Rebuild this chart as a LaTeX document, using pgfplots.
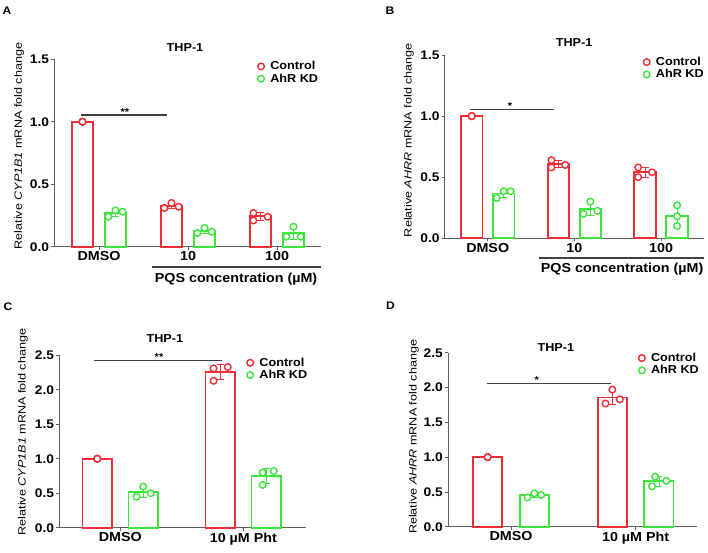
\documentclass[border=0pt]{standalone}
\usepackage{fontspec}
\setmainfont{Liberation Sans}[FakeStretch=1.1]
\newfontfamily\labfont[FakeStretch=1.2]{Liberation Sans}
\usepackage{pgfplots}
\usepackage{pgfplotstable}
\pgfplotsset{compat=1.18}

\definecolor{cred}{RGB}{238,45,55}
\definecolor{cgreen}{RGB}{60,228,60}
\definecolor{axgray}{RGB}{95,95,95}

% bar tables: mean and SD
\pgfplotstableread{
x ctrl ctrlsd kd kdsd
0 1.000 0.000 0.270 0.025
1 0.327 0.021 0.127 0.021
2 0.243 0.030 0.107 0.046
}\barsA
\pgfplotstableread{
x y
0 1.00
0 1.00
0 1.00
0.92 0.31
1.00 0.35
1.08 0.32
1.92 0.27
1.92 0.21
2.08 0.24
}\ctrlA
\pgfplotstableread{
x y
-0.08 0.24
0.00 0.29
0.08 0.28
0.92 0.11
1.00 0.15
1.08 0.12
1.92 0.08
2.00 0.16
2.08 0.08
}\kdA

\pgfplotstableread{
x ctrl ctrlsd kd kdsd
0 1.000 0.000 0.367 0.032
1 0.607 0.030 0.242 0.052
2 0.540 0.040 0.183 0.085
}\barsB
\pgfplotstableread{
x y
0 1.00
0 1.00
0 1.00
0.92 0.64
0.92 0.58
1.08 0.60
1.92 0.58
1.92 0.50
2.08 0.54
}\ctrlB
\pgfplotstableread{
x y
-0.08 0.33
0.00 0.385
0.08 0.385
0.92 0.20
1.00 0.30
1.08 0.225
2.00 0.27
2.00 0.18
2.00 0.10
}\kdB

\pgfplotstableread{
x ctrl ctrlsd kd kdsd
0 1.000 0.000 0.515 0.075
1 2.257 0.110 0.747 0.110
}\barsC
\pgfplotstableread{
x y
0 1.00
0 1.00
0 1.00
0.945 2.31
0.945 2.13
1.06 2.33
}\ctrlC
\pgfplotstableread{
x y
-0.055 0.45
0.00 0.595
0.06 0.50
0.97 0.80
0.97 0.62
1.06 0.82
}\kdC

\pgfplotstableread{
x ctrl ctrlsd kd kdsd
0 1.000 0.000 0.452 0.030
1 1.857 0.100 0.653 0.070
}\barsD
\pgfplotstableread{
x y
0 1.00
0 1.00
0 1.00
0.945 1.77
1.00 1.97
1.06 1.83
}\ctrlD
\pgfplotstableread{
x y
-0.055 0.42
0.00 0.48
0.055 0.455
0.945 0.58
0.97 0.72
1.06 0.66
}\kdD

\pgfplotsset{
  panel/.style={
    scale only axis, anchor=south west, clip=false,
    axis lines=left,
    axis line style={-, draw=axgray, line width=0.9pt},
    tick style={draw=axgray, line width=0.8pt},
    tick align=outside, major tick length=3pt,
    ymin=0,
    xticklabel style={font=\bfseries\fontsize{13}{13}\selectfont, inner sep=2pt},
    yticklabel style={font=\bfseries\fontsize{12.5}{12.5}\selectfont, inner sep=2pt,
      /pgf/number format/fixed, /pgf/number format/fixed zerofill,
      /pgf/number format/precision=1},
    /pgf/number format/assume math mode=true,
    ylabel style={anchor=center, font=\labfont\fontsize{10.5}{11}\selectfont},
    every axis title/.style={anchor=base, font=\bfseries\fontsize{11.5}{11.5}\selectfont},
    legend style={draw=none, fill=none, anchor=north west,
      font=\bfseries\fontsize{11.5}{11.5}\selectfont, row sep=-1.5pt,
      inner sep=0pt},
    legend cell align=left,
  },
  bars/.style={ybar, fill=white, line width=1.8pt, draw=#1, forget plot},
  errs/.style={forget plot, draw=none, mark=none,
    error bars/y dir=both, error bars/y explicit,
    error bars/error bar style={line width=0.8pt, draw=#1},
    error bars/error mark options={rotate=90, mark size=3.5pt, line width=0.8pt, draw=#1}},
  pts/.style={only marks, mark=*, mark size=3.3pt,
    mark options={fill=white, draw=#1, line width=1.4pt},
    legend image code/.code={\path (0pt,0pt) (11pt,0pt);
      \draw[mark repeat=2, mark phase=2, ##1]
      plot coordinates {(0pt,0pt) (4pt,0pt) (8pt,0pt)};}},
  sig/.style={line width=1.1pt, draw=black!75, forget plot},
}

\begin{document}
\begin{tikzpicture}
\useasboundingbox (0,0) rectangle (708pt,552pt);

% ---------------- A ----------------
\begin{axis}[panel, at={(54.3pt,305.3pt)}, width=266.7pt, height=187.4pt,
  xmin=-0.502, xmax=2.494, ymax=1.5, ytick={0,0.5,1,1.5},
  xtick={0,1,2}, xticklabels={DMSO,10,100},
  ylabel={Relative \textit{CYP1B1} mRNA fold change},
  ylabel style={at={(axis description cs:-0.132,0.537)}},
  title={THP-1}, title style={at={(axis description cs:0.49,1.044)}},
  legend style={at={(axis description cs:0.759,1.0)}}]
\addlegendimage{pts=cred}\addlegendentry{Control}
\addlegendimage{pts=cgreen}\addlegendentry{AhR KD}
\addplot[bars=cred, bar width=21pt, bar shift=-16.5pt] table[x=x, y=ctrl] {\barsA};
\addplot[bars=cgreen, bar width=21pt, bar shift=16.5pt] table[x=x, y=kd] {\barsA};
\addplot[errs=cred, xshift=-16.5pt] table[x=x, y=ctrl, y error=ctrlsd] {\barsA};
\addplot[errs=cgreen, xshift=16.5pt] table[x=x, y=kd, y error=kdsd] {\barsA};
\addplot[pts=cred, forget plot, xshift=-16.5pt] table[x=x, y=y] {\ctrlA};
\addplot[pts=cgreen, forget plot, xshift=16.5pt] table[x=x, y=y] {\kdA};
\addplot[sig] coordinates {(-0.202,1.054) (0.764,1.054)};
\node[anchor=base, font=\bfseries\fontsize{10}{10}\selectfont] at (axis cs:0.29,1.054) {**};
\addplot[sig] coordinates {(0.596,-0.1625) (2.494,-0.1625)};
\node[anchor=base, font=\bfseries\fontsize{13}{13}\selectfont] at (axis cs:1.54,-0.285) {PQS concentration (µM)};
\end{axis}

% ---------------- B ----------------
\begin{axis}[panel, at={(444.7pt,313.7pt)}, width=259.3pt, height=183.3pt,
  xmin=-0.496, xmax=2.495, ymax=1.5, ytick={0,0.5,1,1.5},
  xtick={0,1,2}, xticklabels={DMSO,10,100},
  ylabel={Relative \textit{AHRR} mRNA fold change},
  ylabel style={at={(axis description cs:-0.138,0.536)}},
  title={THP-1}, title style={at={(axis description cs:0.499,1.049)}},
  legend style={at={(axis description cs:0.762,1.0)}}]
\addlegendimage{pts=cred}\addlegendentry{Control}
\addlegendimage{pts=cgreen}\addlegendentry{AhR KD}
\addplot[bars=cred, bar width=21.5pt, bar shift=-16pt] table[x=x, y=ctrl] {\barsB};
\addplot[bars=cgreen, bar width=21.5pt, bar shift=16pt] table[x=x, y=kd] {\barsB};
\addplot[errs=cred, xshift=-16pt] table[x=x, y=ctrl, y error=ctrlsd] {\barsB};
\addplot[errs=cgreen, xshift=16pt] table[x=x, y=kd, y error=kdsd] {\barsB};
\addplot[pts=cred, forget plot, xshift=-16pt] table[x=x, y=y] {\ctrlB};
\addplot[pts=cgreen, forget plot, xshift=16pt] table[x=x, y=y] {\kdB};
\addplot[sig] coordinates {(-0.208,1.054) (0.765,1.054)};
\node[anchor=base, font=\bfseries\fontsize{10}{10}\selectfont] at (axis cs:0.257,1.054) {*};
\addplot[sig] coordinates {(0.59,-0.161) (2.495,-0.161)};
\node[anchor=base, font=\bfseries\fontsize{13}{13}\selectfont] at (axis cs:1.55,-0.276) {PQS concentration (µM)};
\end{axis}

% ---------------- C ----------------
\begin{axis}[panel, at={(59.3pt,24.3pt)}, width=246.7pt, height=172.4pt,
  xmin=-0.495, xmax=1.509, ymax=2.5, ytick={0,0.5,1,1.5,2,2.5},
  xtick={0,1}, xticklabels={DMSO,10 µM Pht},
  ylabel={Relative \textit{CYP1B1} mRNA fold change},
  ylabel style={at={(axis description cs:-0.147,0.555)}},
  title={THP-1}, title style={at={(axis description cs:0.428,1.077)}},
  legend style={at={(axis description cs:0.756,0.998)}}]
\addlegendimage{pts=cred}\addlegendentry{Control}
\addlegendimage{pts=cgreen}\addlegendentry{AhR KD}
\addplot[bars=cred, bar width=29.5pt, bar shift=-23pt] table[x=x, y=ctrl] {\barsC};
\addplot[bars=cgreen, bar width=29.5pt, bar shift=23pt] table[x=x, y=kd] {\barsC};
\addplot[errs=cred, xshift=-23pt] table[x=x, y=ctrl, y error=ctrlsd] {\barsC};
\addplot[errs=cgreen, xshift=23pt] table[x=x, y=kd, y error=kdsd] {\barsC};
\addplot[pts=cred, forget plot, xshift=-23pt] table[x=x, y=y] {\ctrlC};
\addplot[pts=cgreen, forget plot, xshift=23pt] table[x=x, y=y] {\kdC};
\addplot[sig] coordinates {(-0.21,2.43) (0.83,2.43)};
\node[anchor=base, font=\bfseries\fontsize{10}{10}\selectfont] at (axis cs:0.315,2.43) {**};
\end{axis}

% ---------------- D ----------------
\begin{axis}[panel, at={(448pt,25.3pt)}, width=249pt, height=174pt,
  xmin=-0.506, xmax=1.493, ymax=2.5, ytick={0,0.5,1,1.5,2,2.5},
  xtick={0,1}, xticklabels={DMSO,10 µM Pht},
  ylabel={Relative \textit{AHRR} mRNA fold change},
  ylabel style={at={(axis description cs:-0.137,0.516)}},
  title={THP-1}, title style={at={(axis description cs:0.433,1.006)}},
  legend style={at={(axis description cs:0.761,1.01)}}]
\addlegendimage{pts=cred}\addlegendentry{Control}
\addlegendimage{pts=cgreen}\addlegendentry{AhR KD}
\addplot[bars=cred, bar width=29.3pt, bar shift=-23.3pt] table[x=x, y=ctrl] {\barsD};
\addplot[bars=cgreen, bar width=29.3pt, bar shift=23.3pt] table[x=x, y=kd] {\barsD};
\addplot[errs=cred, xshift=-23.3pt] table[x=x, y=ctrl, y error=ctrlsd] {\barsD};
\addplot[errs=cgreen, xshift=23.3pt] table[x=x, y=kd, y error=kdsd] {\barsD};
\addplot[pts=cred, forget plot, xshift=-23.3pt] table[x=x, y=y] {\ctrlD};
\addplot[pts=cgreen, forget plot, xshift=23.3pt] table[x=x, y=y] {\kdD};
\addplot[sig] coordinates {(-0.19,2.06) (0.80,2.06)};
\node[anchor=base, font=\bfseries\fontsize{10}{10}\selectfont] at (axis cs:0.206,2.06) {*};
\end{axis}

% panel letters
\begin{scope}[every node/.style={font=\bfseries\fontsize{11}{11}\selectfont}]
\node at (7pt,541.5pt) {A};
\node at (390pt,541.5pt) {B};
\node at (8pt,245pt) {C};
\node at (390.5pt,246pt) {D};
\end{scope}
\end{tikzpicture}
\end{document}
